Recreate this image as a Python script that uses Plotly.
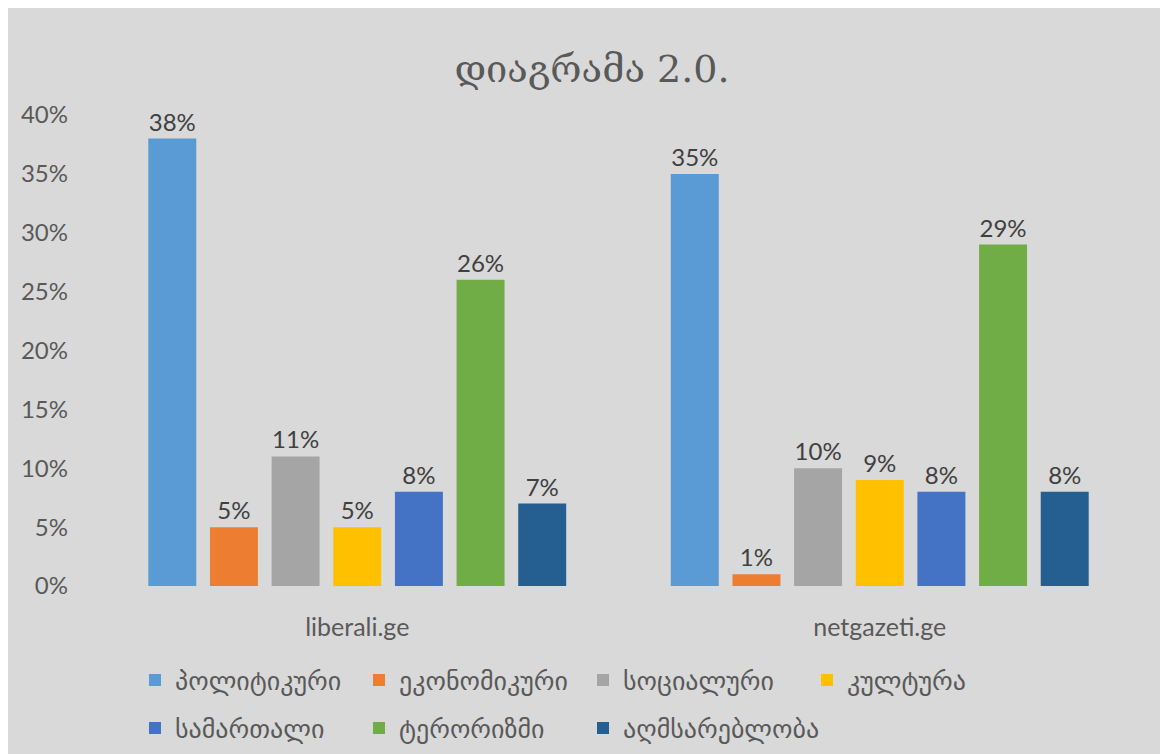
import plotly.graph_objects as go

categories = ["liberali.ge", "netgazeti.ge"]
series_names = ["პოლიტიკური", "ეკონომიკური", "სოციალური", "კულტურა",
                "სამართალი", "ტერორიზმი", "აღმსარებლობა"]
series_values = [
    [0.38, 0.35],
    [0.05, 0.01],
    [0.11, 0.10],
    [0.05, 0.09],
    [0.08, 0.08],
    [0.26, 0.29],
    [0.07, 0.08],
]
colors = ["#5B9BD5", "#ED7D31", "#A5A5A5", "#FFC000", "#4472C4", "#70AD47", "#255E91"]
legend_of = ["legend", "legend", "legend", "legend", "legend2", "legend2", "legend3"]
tick_vals = [0, 0.05, 0.10, 0.15, 0.20, 0.25, 0.30, 0.35, 0.40]
tick_text = ["0%", "5%", "10%", "15%", "20%", "25%", "30%", "35%", "40%"]
title_text = "დიაგრამა 2.0."

W, H = 1168, 754
ml, mr, mt, mb = 88, 35, 107, 176
pw, ph = W - ml - mr, H - mt - mb

fig = go.Figure()
for name, vals, c, lg in zip(series_names, series_values, colors, legend_of):
    fig.add_trace(go.Bar(
        x=categories, y=vals, name=name, marker_color=c, marker_line_width=0,
        text=[f"{round(v*100)}%" for v in vals], textposition="outside",
        textfont=dict(size=24, color="#404040"), cliponaxis=False, legend=lg,
    ))

pitch = 224
leg_common = dict(orientation="h", xanchor="left", yanchor="middle",
                  entrywidthmode="pixels", bgcolor="rgba(0,0,0,0)",
                  font=dict(size=26, color="#595959", family="DejaVu Sans"),
                  traceorder="normal", itemwidth=30)
lx = (127 - ml) / pw

fig.update_layout(
    width=W, height=H,
    margin=dict(l=ml, r=mr, t=mt, b=mb, autoexpand=False),
    paper_bgcolor="#D9D9D9", plot_bgcolor="#D9D9D9",
    font=dict(family="Lato, DejaVu Sans, sans-serif", color="#595959", size=24),
    title=dict(text=title_text, x=0.5, xanchor="center", y=1 - 61 / H, yanchor="middle",
               font=dict(size=38, color="#595959", family="DejaVu Serif, DejaVu Sans")),
    barmode="group", bargap=0.174, bargroupgap=0.222,
    showlegend=True,
    legend=dict(x=lx, y=(578 - 672) / ph, entrywidth=pitch - 45, **leg_common),
    legend2=dict(x=lx, y=(578 - 720) / ph, entrywidth=pitch - 45, **leg_common),
    legend3=dict(x=lx + 2 * pitch / pw, y=(578 - 720) / ph, entrywidth=0, **leg_common),
    xaxis=dict(showgrid=False, showline=False, zeroline=False, ticks="",
               ticklabelstandoff=24, tickfont=dict(size=25, color="#595959")),
    yaxis=dict(range=[0, 0.40], tickvals=tick_vals, ticktext=tick_text, showgrid=False,
               zeroline=False, showline=False, ticks="", ticklabelstandoff=27,
               tickfont=dict(size=24, color="#595959")),
)

fig.write_html("out.html")
